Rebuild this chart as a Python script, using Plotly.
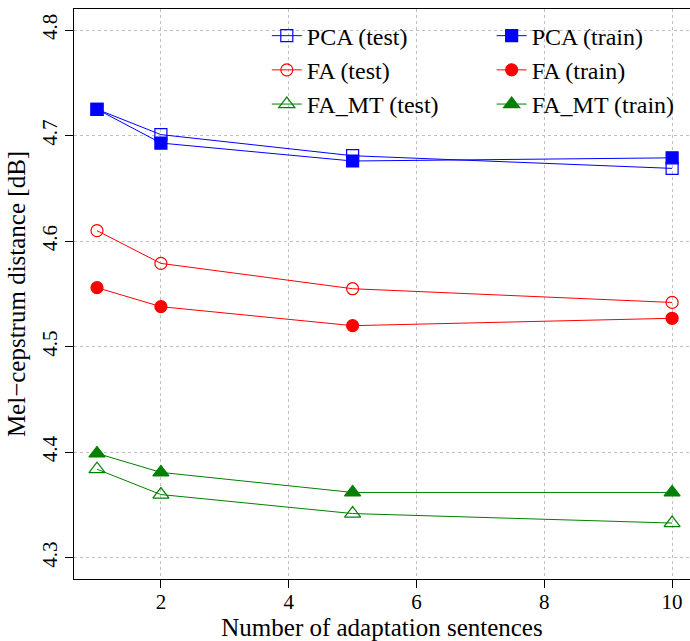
import plotly.graph_objects as go

sentences = [1, 2, 5, 10]
pca_test = [4.725, 4.701, 4.681, 4.669]
pca_train = [4.725, 4.693, 4.676, 4.679]
fa_test = [4.610, 4.579, 4.555, 4.542]
fa_train = [4.556, 4.538, 4.520, 4.527]
famt_test = [4.384, 4.360, 4.342, 4.333]
famt_train = [4.399, 4.381, 4.362, 4.362]

x_ticks = [2, 4, 6, 8, 10]
y_ticks = [4.3, 4.4, 4.5, 4.6, 4.7, 4.8]

FONT = "Liberation Serif"
BLUE, RED, GREEN = "#0000ff", "#ff0000", "#008000"

series = [
    ("PCA (test)", pca_test, BLUE, "square-open", 12, "legend"),
    ("FA (test)", fa_test, RED, "circle-open", 12, "legend"),
    ("FA_MT (test)", famt_test, GREEN, "triangle-up-open", 14, "legend"),
    ("PCA (train)", pca_train, BLUE, "square", 12, "legend2"),
    ("FA (train)", fa_train, RED, "circle", 12, "legend2"),
    ("FA_MT (train)", famt_train, GREEN, "triangle-up", 14, "legend2"),
]

fig = go.Figure()
for name, vals, col, sym, size, leg in series:
    fig.add_trace(go.Scatter(
        x=sentences, y=vals, name=name, mode="lines+markers",
        line=dict(color=col, width=1),
        marker=dict(symbol=sym, size=size, color=col, line=dict(color=col, width=1.2)),
        legend=leg,
    ))

legend_common = dict(
    bgcolor="rgba(0,0,0,0)", borderwidth=0,
    font=dict(family=FONT, size=24, color="black"),
    xanchor="left", yanchor="top", tracegroupgap=0,
)

fig.update_layout(
    width=690, height=641,
    margin=dict(l=74, r=0, t=9, b=62),
    paper_bgcolor="white", plot_bgcolor="white",
    font=dict(family=FONT, color="black"),
    showlegend=True,
    legend=dict(x=0.313, y=0.992, **legend_common),
    legend2=dict(x=0.678, y=0.992, **legend_common),
    xaxis=dict(
        range=[0.64, 10.28], tickvals=x_ticks, ticktext=[str(v) for v in x_ticks],
        showline=True, linecolor="black", linewidth=1, mirror=True,
        ticks="outside", ticklen=8, tickcolor="black", ticklabelstandoff=-4,
        showgrid=True, gridcolor="#c0c0c0", griddash="dot", gridwidth=1,
        zeroline=False,
        tickfont=dict(family=FONT, size=21, color="black"),
        title=dict(text="Number of adaptation sentences", font=dict(family=FONT, size=25), standoff=0),
    ),
    yaxis=dict(
        range=[4.28, 4.82], tickvals=y_ticks, ticktext=[f"{v:.1f}" for v in y_ticks],
        showline=True, linecolor="black", linewidth=1, mirror=False,
        ticks="outside", ticklen=8, tickcolor="black", tickangle=-90,
        showgrid=True, gridcolor="#c0c0c0", griddash="dot", gridwidth=1,
        zeroline=False,
        tickfont=dict(family=FONT, size=21, color="black"),
        title=dict(text="Mel\u2212cepstrum distance [dB]", font=dict(family=FONT, size=25), standoff=4),
    ),
)

fig.write_html("out.html")
